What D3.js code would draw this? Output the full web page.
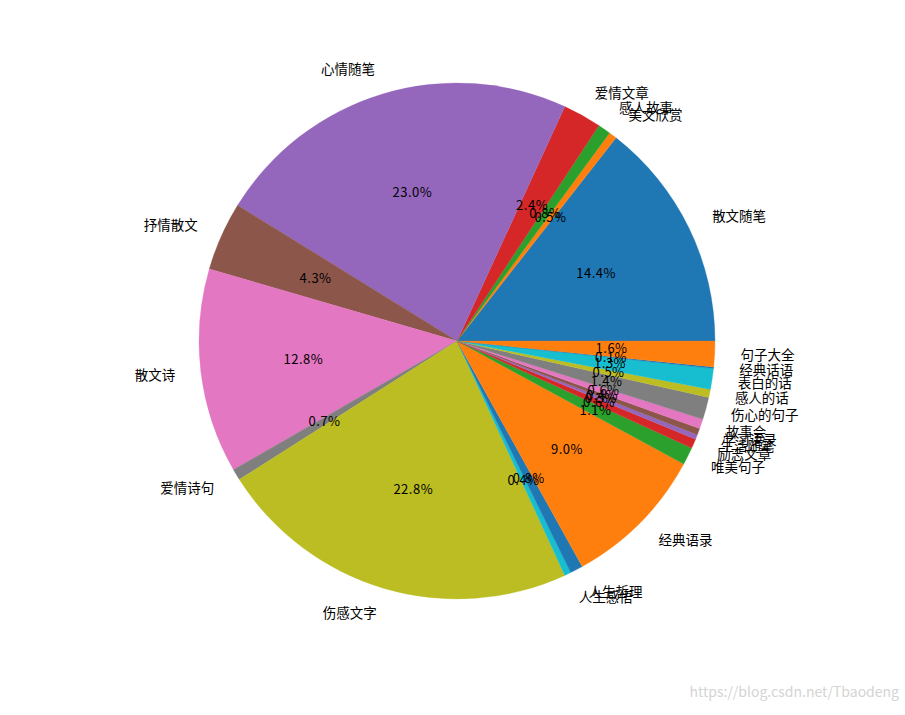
<!DOCTYPE html>
<html lang="zh">
  <head>
    <meta charset="utf-8" />
    <title>文章分类占比</title>
    <script src="https://cdn.jsdelivr.net/npm/d3@7/dist/d3.min.js"></script>
    <style>
      body { margin: 0; background: #fff; }
      text { font-family: "Noto Sans CJK SC", "DejaVu Sans", sans-serif; }
    </style>
  </head>
  <body>
    <div id="chart"></div>
    <script>
      // categories in drawing order (counter-clockwise from 3 o'clock)
      const categories = [
        "散文随笔", "美文欣赏", "感人故事", "爱情文章", "心情随笔", "抒情散文",
        "散文诗", "爱情诗句", "伤感文字", "人生感悟", "人生哲理", "经典语录",
        "唯美句子", "励志文章", "生活随笔", "学习语录", "故事会", "伤心的句子",
        "感人的话", "表白的话", "经典话语", "句子大全"
      ];
      // share of each category, in percent
      const shares = [
        14.4, 0.5, 0.8, 2.4, 23.0, 4.3,
        12.8, 0.7, 22.8, 0.4, 0.8, 9.0,
        1.1, 0.6, 0.3, 0.4, 0.6, 1.4,
        0.5, 1.3, 0.1, 1.6
      ];
      const palette = ["#1f77b4", "#ff7f0e", "#2ca02c", "#d62728", "#9467bd",
                       "#8c564b", "#e377c2", "#7f7f7f", "#bcbd22", "#17becf"];

      const width = 905, height = 715;
      const cx = 457, cy = 341, radius = 258;

      const data = categories.map((name, i) => ({ name: name, value: shares[i], idx: i }));
      const total = d3.sum(shares);

      const svg = d3.select("#chart").append("svg")
        .attr("width", width)
        .attr("height", height);

      const g = svg.append("g").attr("transform", `translate(${cx},${cy})`);

      // matplotlib style: start at 90deg in d3 terms (east), go counter-clockwise
      const pie = d3.pie()
        .sort(null)
        .value(d => d.value)
        .startAngle(Math.PI / 2)
        .endAngle(Math.PI / 2 - 2 * Math.PI);

      const arcs = pie(data);
      const arc = d3.arc().innerRadius(0).outerRadius(radius);
      const color = d3.scaleOrdinal().domain(d3.range(10)).range(palette);

      g.selectAll("path.slice")
        .data(arcs)
        .enter()
        .append("path")
        .attr("class", "slice")
        .attr("d", arc)
        .attr("fill", d => color(d.data.idx % 10))
        .attr("stroke", d => color(d.data.idx % 10))
        .attr("stroke-width", 0.3);

      const mid = d => (d.startAngle + d.endAngle) / 2;
      // d3 angle: 0 = north, clockwise; convert to x/y
      const pos = (d, r) => [Math.sin(mid(d)) * r, -Math.cos(mid(d)) * r];

      // category labels at 1.1 r
      g.selectAll("text.label")
        .data(arcs)
        .enter()
        .append("text")
        .attr("class", "label")
        .attr("x", d => pos(d, radius * 1.1)[0])
        .attr("y", d => pos(d, radius * 1.1)[1])
        .attr("dy", "0.35em")
        .attr("text-anchor", d => pos(d, 1)[0] > 0 ? "start" : "end")
        .style("font-size", "13.5px")
        .attr("fill", "#000")
        .text(d => d.data.name);

      // percentage labels at 0.6 r
      const fmt = d3.format(".1f");
      g.selectAll("text.pct")
        .data(arcs)
        .enter()
        .append("text")
        .attr("class", "pct")
        .attr("x", d => pos(d, radius * 0.6)[0])
        .attr("y", d => pos(d, radius * 0.6)[1])
        .attr("dy", "0.35em")
        .attr("text-anchor", "middle")
        .style("font-size", "13px")
        .style("letter-spacing", "0.5px")
        .attr("fill", "#000")
        .text(d => fmt(d.data.value / total * 100) + "%");

      // watermark
      svg.append("text")
        .attr("x", width - 6)
        .attr("y", height - 18)
        .attr("text-anchor", "end")
        .style("font-size", "14px")
        .attr("fill", "#d4d4d4")
        .text("https://blog.csdn.net/Tbaodeng");
    </script>
  </body>
</html>
